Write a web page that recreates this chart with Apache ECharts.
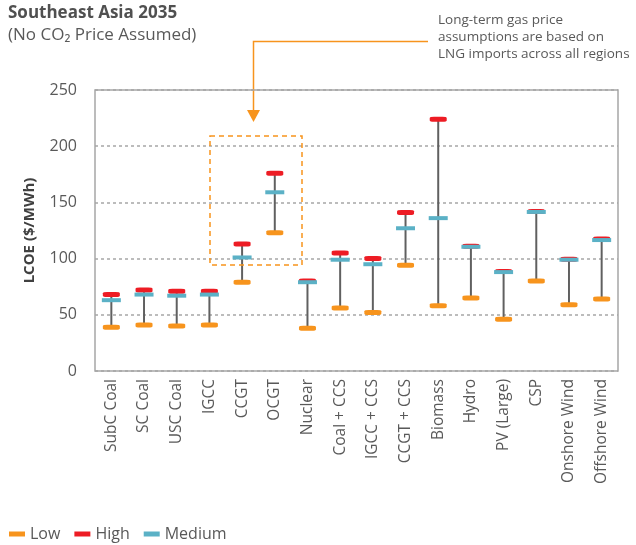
<!DOCTYPE html>
<html>
<head>
<meta charset="utf-8">
<script src="https://cdn.jsdelivr.net/npm/echarts@6/dist/echarts.min.js"></script>
<style>
  html, body { margin: 0; padding: 0; background: #fff; }
  #chart { width: 636px; height: 545px; }
</style>
</head>
<body>
<div id="chart"></div>
<script>
// LCOE ranges by technology, $/MWh
const categories = ['SubC Coal', 'SC Coal', 'USC Coal', 'IGCC', 'CCGT', 'OCGT', 'Nuclear',
  'Coal + CCS', 'IGCC + CCS', 'CCGT + CCS', 'Biomass', 'Hydro', 'PV (Large)', 'CSP',
  'Onshore Wind', 'Offshore Wind'];
const lowValues    = [39, 41, 40, 41, 79, 123, 38, 56, 52, 94, 58, 65, 46, 80, 59, 64];
const highValues   = [68, 72, 71, 71, 113, 176, 80, 105, 100, 141, 224, 111, 88.5, 142, 99.5, 117.5];
const mediumValues = [63, 68, 67, 68, 101, 159, 79, 99, 95, 127, 136, 110.5, 88, 141.5, 99, 116.5];
const yTicks = [0, 50, 100, 150, 200, 250];

const ORANGE = '#f7941d';
const RED = '#ed1c24';
const BLUE = '#5bb1c6';
const FONT = 'Open Sans';

const chart = echarts.init(document.getElementById('chart'));

// whisker from the lowest to the highest value of each technology
const whiskerData = categories.map((c, i) => [
  i,
  Math.min(lowValues[i], highValues[i], mediumValues[i]),
  Math.max(lowValues[i], highValues[i], mediumValues[i])
]);

const option = {
  animation: false,
  textStyle: { fontFamily: FONT },
  grid: { left: 95, right: 18, top: 90, bottom: 174, show: true, borderColor: '#a6a6a6', borderWidth: 1.5 },
  legend: {
    data: ['Low', 'High', 'Medium'],
    left: 4,
    top: 521,
    icon: 'rect',
    itemWidth: 16,
    itemHeight: 5,
    itemGap: 14,
    textStyle: { fontSize: 16, color: '#595959', fontFamily: FONT }
  },
  xAxis: {
    type: 'category',
    data: categories,
    axisLine: { show: false },
    axisTick: { show: false },
    axisLabel: { rotate: 90, fontSize: 15.5, color: '#595959', margin: 8, interval: 0 }
  },
  yAxis: {
    type: 'value',
    min: 0,
    max: yTicks[yTicks.length - 1],
    interval: 50,
    name: 'LCOE ($/MWh)',
    nameLocation: 'middle',
    nameGap: 58,
    nameTextStyle: { fontSize: 15, fontWeight: 'bold', color: '#404040' },
    axisLine: { show: false },
    axisTick: { show: false },
    axisLabel: { fontSize: 16, color: '#595959', margin: 18 },
    splitLine: {
      show: true,
      lineStyle: { type: [3, 3], color: '#a6a6a6', width: 1.5 }
    }
  },
  series: [
    {
      type: 'custom',
      name: 'range',
      data: whiskerData,
      encode: { x: 0, y: [1, 2] },
      z: 1,
      renderItem: (params, api) => {
        const x = api.value(0);
        const lo = api.coord([x, api.value(1)]);
        const hi = api.coord([x, api.value(2)]);
        return {
          type: 'line',
          shape: { x1: lo[0], y1: lo[1], x2: hi[0], y2: hi[1] },
          style: { stroke: '#606060', lineWidth: 2 }
        };
      }
    },
    {
      type: 'scatter',
      name: 'Low',
      data: lowValues,
      symbol: 'roundRect',
      symbolSize: [17, 5],
      itemStyle: { color: ORANGE, opacity: 1 },
      z: 3
    },
    {
      type: 'scatter',
      name: 'High',
      data: highValues,
      symbol: 'roundRect',
      symbolSize: [17, 5],
      itemStyle: { color: RED, opacity: 1 },
      z: 4
    },
    {
      type: 'scatter',
      name: 'Medium',
      data: mediumValues,
      symbol: 'rect',
      symbolSize: [19, 4],
      itemStyle: { color: BLUE, opacity: 1 },
      z: 5
    }
  ],
  graphic: [
    {
      type: 'text',
      left: 8,
      top: 5,
      style: { text: 'Southeast Asia 2035', fontSize: 17, fontWeight: 'bold', fill: '#505050', fontFamily: FONT }
    },
    {
      type: 'text',
      left: 8,
      top: 27,
      style: { text: '(No CO\u2082 Price Assumed)', fontSize: 17, fill: '#595959', fontFamily: FONT }
    },
    {
      type: 'text',
      left: 438,
      top: 12,
      style: {
        text: 'Long-term gas price\nassumptions are based on\nLNG imports across all regions',
        fontSize: 13.5,
        lineHeight: 17,
        fill: '#595959',
        fontFamily: FONT
      }
    },
    {
      type: 'polyline',
      shape: { points: [[428, 41.5], [253.5, 41.5], [253.5, 111]] },
      style: { stroke: ORANGE, lineWidth: 1.5, fill: null }
    },
    {
      type: 'polygon',
      shape: { points: [[247, 110], [260, 110], [253.5, 122]] },
      style: { fill: ORANGE }
    },
    {
      type: 'rect',
      shape: { x: 210, y: 136, width: 92, height: 129 },
      style: { stroke: ORANGE, lineWidth: 1.5, fill: null, lineDash: [5, 4] },
      z: 10
    }
  ]
};

chart.setOption(option);
</script>
</body>
</html>
